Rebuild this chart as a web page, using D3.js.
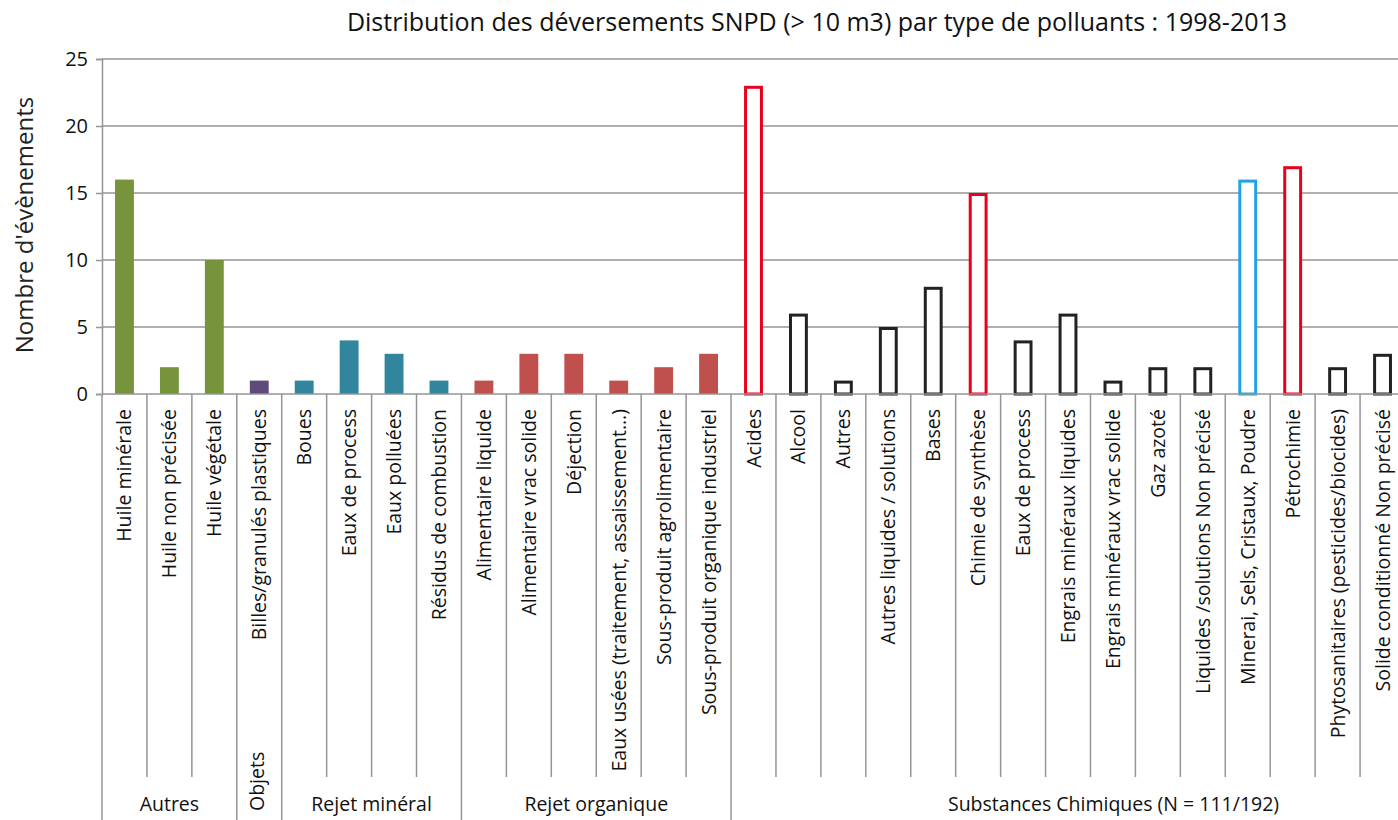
<!DOCTYPE html>
<html>
<head>
<meta charset="utf-8">
<script src="https://cdn.jsdelivr.net/npm/d3@7"></script>
<style>
  html, body { margin: 0; padding: 0; background: #fff; overflow: hidden; }
  svg { display: block; font-family: "Open Sans", "Noto Sans", sans-serif; }
</style>
</head>
<body>
<svg id="chart" width="1398" height="820"></svg>
<script>
// Pollutant types (in display order) and their group
const categories = [
  "Huile minérale", "Huile non précisée", "Huile végétale",
  "Billes/granulés plastiques",
  "Boues", "Eaux de process", "Eaux polluées", "Résidus de combustion",
  "Alimentaire liquide", "Alimentaire vrac solide", "Déjection",
  "Eaux usées (traitement, assaissement...)", "Sous-produit agrolimentaire",
  "Sous-produit organique industriel",
  "Acides", "Alcool", "Autres", "Autres liquides / solutions", "Bases",
  "Chimie de synthèse", "Eaux de process", "Engrais minéraux liquides",
  "Engrais minéraux vrac solide", "Gaz azoté", "Liquides /solutions Non précisé",
  "Minerai, Sels, Cristaux, Poudre", "Pétrochimie",
  "Phytosanitaires (pesticides/biocides)", "Solide conditionné Non précisé"
];
const counts = [
  16, 2, 10,
  1,
  1, 4, 3, 1,
  1, 3, 3, 1, 2, 3,
  23, 6, 1, 5, 8, 15, 4, 6, 1, 2, 2, 16, 17, 2, 3
];
// Highlight class for chemical substances: "red", "blue" or "plain"
const highlight = [
  "", "", "",
  "",
  "", "", "", "",
  "", "", "", "", "", "",
  "red", "plain", "plain", "plain", "plain", "red", "plain", "plain",
  "plain", "plain", "plain", "blue", "red", "plain", "plain"
];
const groupNames = ["Autres", "Objets", "Rejet minéral", "Rejet organique", "Substances Chimiques (N = 111/192)"];
const groupSizes = [3, 1, 4, 6, 15];
const yTicks = [0, 5, 10, 15, 20, 25];

const title = "Distribution des déversements SNPD (> 10 m3) par type de polluants : 1998-2013";
const yTitle = "Nombre d'évènements";

const groupFill = {
  "Autres": "#77933c",
  "Objets": "#604a7b",
  "Rejet minéral": "#31859c",
  "Rejet organique": "#c0504d"
};
const outlineStroke = { red: "#e8001c", blue: "#1fa3e2", plain: "#222222" };

const svg = d3.select("#chart");
const plotLeft = 102, plotRight = 1405, plotTop = 59, plotBase = 394;
const innerTickBottom = 777, groupLineBottom = 820;
const labelSize = 19.5;
const lineColor = "#959595";
// The last group's label is centred over a wider span than the visible columns
const lastGroupLabelSpan = 765;

// Group of each category, from group sizes
const groupOf = [];
groupSizes.forEach((n, g) => { for (let i = 0; i < n; i++) groupOf.push(groupNames[g]); });

const x = d3.scaleBand().domain(d3.range(categories.length)).range([plotLeft, plotRight]).paddingInner(0).paddingOuter(0);
const y = d3.scaleLinear().domain([0, 25]).range([plotBase, plotTop]);
const barW = x.bandwidth() * 0.42;

// Gridlines
svg.append("g").selectAll("line").data(yTicks.filter(t => t > 0)).join("line")
  .attr("x1", plotLeft).attr("x2", 1398)
  .attr("y1", d => y(d)).attr("y2", d => y(d))
  .attr("stroke", lineColor).attr("stroke-width", 1.5);

// Y axis
const yAxis = svg.append("g").attr("transform", `translate(${plotLeft},0)`)
  .call(d3.axisLeft(y).tickValues(yTicks).tickSize(6).tickPadding(8));
yAxis.select(".domain").attr("stroke", lineColor).attr("stroke-width", 1.5);
yAxis.selectAll(".tick line").attr("stroke", lineColor).attr("stroke-width", 1.5);
yAxis.selectAll(".tick text").attr("font-size", 20).attr("fill", "#111")
  .attr("font-family", "Open Sans, sans-serif");

// Bars
const bars = svg.append("g");
counts.forEach((v, i) => {
  const h = highlight[i];
  const cx = x(i) + x.bandwidth() / 2;
  if (!h) {
    bars.append("rect")
      .attr("x", cx - barW / 2).attr("y", y(v))
      .attr("width", barW).attr("height", y(0) - y(v))
      .attr("fill", groupFill[groupOf[i]]);
  } else {
    bars.append("rect")
      .attr("x", cx - barW / 2 + 1.5).attr("y", y(v) + 1.5)
      .attr("width", barW - 3).attr("height", y(0) - y(v) - 1.5)
      .attr("fill", "#fff")
      .attr("stroke", outlineStroke[h]).attr("stroke-width", 3);
  }
});

// Category axis baseline
svg.append("line").attr("x1", plotLeft).attr("x2", 1398).attr("y1", plotBase).attr("y2", plotBase)
  .attr("stroke", lineColor).attr("stroke-width", 1.5);

// Separators between categories and groups
const groupStarts = [0];
groupSizes.forEach((n, g) => groupStarts.push(groupStarts[g] + n));
const sep = svg.append("g").attr("stroke", lineColor).attr("stroke-width", 1.5);
for (let i = 0; i <= categories.length; i++) {
  const xx = i < categories.length ? x(i) : plotRight;
  const isGroup = groupStarts.includes(i);
  sep.append("line").attr("x1", xx).attr("x2", xx)
    .attr("y1", plotBase).attr("y2", isGroup ? groupLineBottom : innerTickBottom);
}

// Category labels (rotated)
svg.append("g").selectAll("text").data(categories).join("text")
  .attr("transform", (d, i) => `translate(${x(i) + x.bandwidth() / 2 + 7},${plotBase + 15}) rotate(-90)`)
  .attr("text-anchor", "end")
  .attr("font-size", labelSize).attr("fill", "#111")
  .text(d => d);

// Group labels
groupNames.forEach((name, g) => {
  const x0 = x(groupStarts[g]);
  const last = groupStarts[g + 1] >= categories.length;
  const x1 = last ? x0 + lastGroupLabelSpan : x(groupStarts[g + 1]);
  const cx = (x0 + x1) / 2;
  if (groupSizes[g] === 1) {
    svg.append("text")
      .attr("transform", `translate(${cx + 5},${811}) rotate(-90)`)
      .attr("text-anchor", "start")
      .attr("font-size", labelSize).attr("fill", "#111").text(name);
  } else {
    svg.append("text").attr("x", cx).attr("y", 811)
      .attr("text-anchor", "middle")
      .attr("font-size", labelSize).attr("fill", "#111").text(name);
  }
});

// Title
svg.append("text").attr("x", 817).attr("y", 31)
  .attr("text-anchor", "middle").attr("font-size", 25).attr("fill", "#111")
  .text(title);

// Y axis title
svg.append("text")
  .attr("transform", `translate(33,225) rotate(-90)`)
  .attr("text-anchor", "middle").attr("font-size", 24).attr("fill", "#222")
  .text(yTitle);
</script>
</body>
</html>
